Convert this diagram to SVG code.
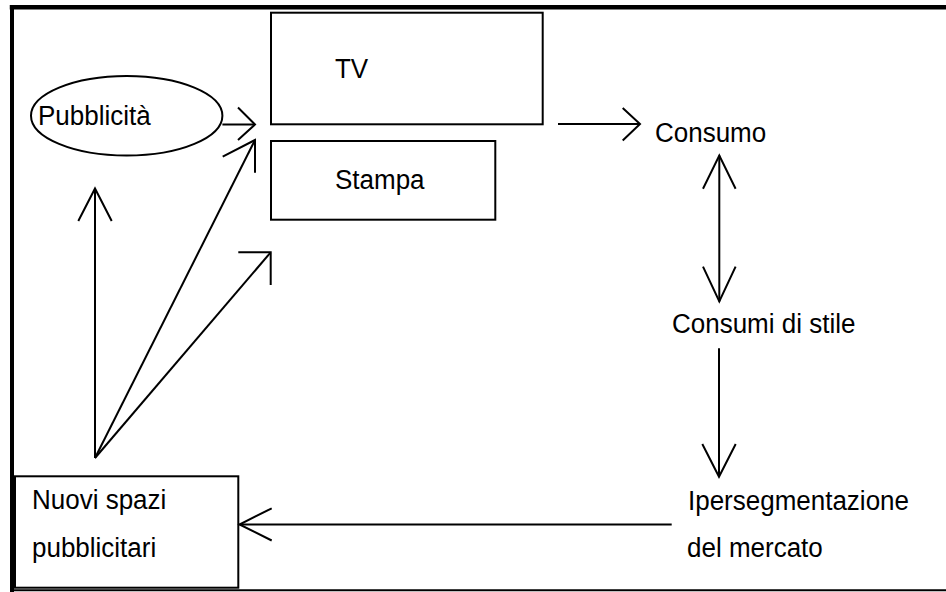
<svg xmlns="http://www.w3.org/2000/svg" width="946" height="592" viewBox="0 0 946 592">
  <style>
    .bg { fill: #ffffff; }
    .frame { stroke: #000000; fill: none; stroke-linecap: square; }
    .box { fill: #ffffff; stroke: #000000; stroke-width: 2; }
    .line { fill: none; stroke: #000000; stroke-width: 2; }
    .head { fill: none; stroke: #000000; stroke-width: 2; stroke-linejoin: miter; stroke-linecap: butt; }
    .label { font-family: "Liberation Sans", Arial, sans-serif; font-size: 26px; fill: #000000; }
  </style>

  <rect class="bg" x="0" y="0" width="946" height="592"/>

  <!-- page frame: heavy top and left rules, thin bottom rule -->
  <g id="frame">
    <line class="frame" x1="12" y1="7.3" x2="946" y2="7.3" stroke-width="4.5"/>
    <line class="frame" x1="12" y1="7" x2="12" y2="590" stroke-width="4"/>
    <line class="frame" x1="12" y1="590.3" x2="946" y2="590.3" stroke-width="2"/>
  </g>

  <!-- nodes (labels slightly stretched vertically, anchored on the baseline) -->
  <g id="node-pubblicita">
    <ellipse class="box" cx="126.7" cy="115.8" rx="95.7" ry="39.8"/>
    <text class="label" x="0" y="0" transform="translate(38,125) scale(1,1.07)">Pubblicità</text>
  </g>

  <g id="node-tv">
    <rect class="box" x="271" y="12.7" width="271.7" height="111.6"/>
    <text class="label" x="0" y="0" transform="translate(335,77.5) scale(1,1.07)">TV</text>
  </g>

  <g id="node-stampa">
    <rect class="box" x="271" y="141" width="224.3" height="78.7"/>
    <text class="label" x="0" y="0" transform="translate(335,188.5) scale(1,1.07)">Stampa</text>
  </g>

  <g id="node-consumo">
    <text class="label" x="0" y="0" transform="translate(655,141.5) scale(1,1.07)">Consumo</text>
  </g>

  <g id="node-consumi-stile">
    <text class="label" x="0" y="0" transform="translate(672,333) scale(1,1.07)">Consumi di stile</text>
  </g>

  <g id="node-ipersegmentazione">
    <text class="label" x="0" y="0" transform="translate(688,509.5) scale(1,1.07)">Ipersegmentazione</text>
    <text class="label" x="0" y="0" transform="translate(687,557) scale(1,1.07)">del mercato</text>
  </g>

  <g id="node-nuovi-spazi">
    <rect class="box" x="15" y="476.3" width="223.3" height="111.4"/>
    <text class="label" x="0" y="0" transform="translate(32,509) scale(1,1.07)">Nuovi spazi</text>
    <text class="label" x="0" y="0" transform="translate(32,557) scale(1,1.07)">pubblicitari</text>
  </g>

  <!-- connectors -->
  <g id="connectors">
    <!-- Pubblicità -> TV -->
    <line class="line" x1="222.4" y1="124.5" x2="255" y2="124.5"/>
    <polyline class="head" points="238,107.5 255,124.5 238,140"/>

    <!-- Nuovi spazi -> Pubblicità -->
    <line class="line" x1="95" y1="458" x2="95" y2="188.5"/>
    <polyline class="head" points="78.3,221 95,188.5 111.7,221"/>

    <!-- Nuovi spazi -> TV / Stampa -->
    <line class="line" x1="95" y1="458" x2="255" y2="140"/>
    <polyline class="head" points="222.7,156.7 255,140 255,172.7"/>

    <!-- Nuovi spazi -> Stampa (lower) -->
    <line class="line" x1="95" y1="458" x2="270.7" y2="252.3"/>
    <polyline class="head" points="238.3,252.3 270.7,252.3 270.7,285"/>

    <!-- TV -> Consumo -->
    <line class="line" x1="558" y1="124" x2="640" y2="124"/>
    <polyline class="head" points="622.7,108 640,124 622.7,140.5"/>

    <!-- Consumo <-> Consumi di stile -->
    <line class="line" x1="719.3" y1="155.5" x2="719.3" y2="301.5"/>
    <polyline class="head" points="703,188.7 719.3,155.5 735.6,188.7"/>
    <polyline class="head" points="703,266.7 719.3,301.5 735.6,266.7"/>

    <!-- Consumi di stile -> Ipersegmentazione -->
    <line class="line" x1="719" y1="348.3" x2="719" y2="476.7"/>
    <polyline class="head" points="702.3,444 719,476.7 735.7,444"/>

    <!-- Ipersegmentazione -> Nuovi spazi -->
    <line class="line" x1="671.7" y1="524.5" x2="239.5" y2="524.5"/>
    <polyline class="head" points="271.7,508.3 239.5,524.5 271.7,540.5"/>
  </g>
</svg>
